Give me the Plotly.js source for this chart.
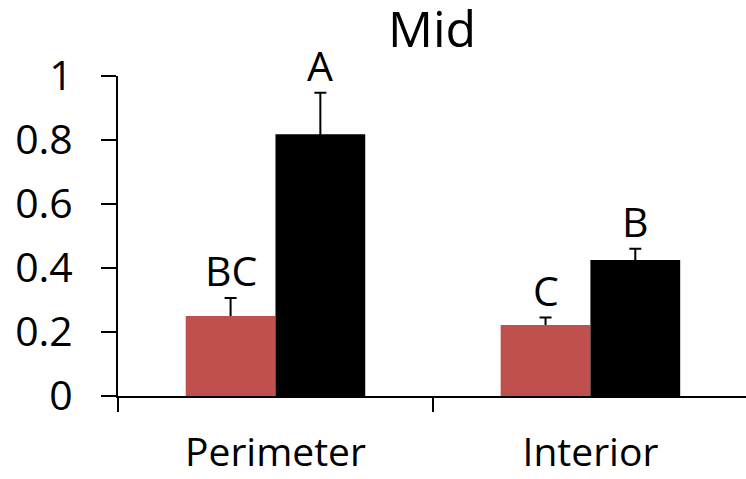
<!DOCTYPE html>
<html>
<head>
<meta charset="utf-8">
<script src="https://cdn.plot.ly/plotly-3.0.1.min.js"></script>
<style>html,body{margin:0;padding:0;background:#fff;}#chart{width:746px;height:479px;}</style>
</head>
<body>
<div id="chart"></div>
<script>
const categories = ["Perimeter", "Interior"];
const redValues = [0.25, 0.222];
const redErrors = [0.056, 0.023];
const blackValues = [0.818, 0.425];
const blackErrors = [0.13, 0.035];
const redLetters = ["BC", "C"];
const blackLetters = ["A", "B"];
const yTickVals = [0, 0.2, 0.4, 0.6, 0.8, 1];
const yTickText = ["0", "0.2", "0.4", "0.6", "0.8", "1"];
const titleText = "Mid";

const FONT = "Open Sans";
const bargap = 0.43;
const half = (1 - bargap) / 4;
const tuck = 0.01; // lower end of error bar sits hidden inside the bar

function errTrace(vals, errs) {
  return {
    type: "bar", x: categories, y: vals.map(v => v - tuck), yaxis: "y", xaxis: "x",
    marker: {color: "rgba(0,0,0,0)"}, hoverinfo: "skip",
    error_y: {type: "data", array: errs.map(e => e + tuck), arrayminus: errs.map(() => 0), symmetric: false, color: "#000", thickness: 2, width: 6}
  };
}

const traces = [
  errTrace(redValues, redErrors),
  errTrace(blackValues, blackErrors),
  {type: "bar", x: categories, y: redValues, yaxis: "y2", xaxis: "x", marker: {color: "#C0504D"}},
  {type: "bar", x: categories, y: blackValues, yaxis: "y2", xaxis: "x", marker: {color: "#000000"}}
];

const annotations = [];
categories.forEach((c, i) => {
  annotations.push({x: i - half, y: redValues[i] + redErrors[i], xref: "x", yref: "y", text: redLetters[i], showarrow: false, yanchor: "bottom", yshift: -2, font: {family: FONT, size: 41, color: "#000"}});
  annotations.push({x: i + half, y: blackValues[i] + blackErrors[i], xref: "x", yref: "y", text: blackLetters[i], showarrow: false, yanchor: "bottom", yshift: -2, font: {family: FONT, size: 41, color: "#000"}});
});

const layout = {
  width: 746, height: 479,
  margin: {l: 118, r: 0, t: 76, b: 83},
  paper_bgcolor: "#fff", plot_bgcolor: "#fff",
  font: {family: FONT, size: 41, color: "#000"},
  showlegend: false,
  barmode: "group", bargap: bargap, bargroupgap: 0,
  title: {text: titleText, font: {family: FONT, size: 50, color: "#000"}, x: 0.5, xref: "paper", xanchor: "center", y: 0.976, yref: "container", yanchor: "top"},
  xaxis: {
    type: "category", range: [-0.5, 1.494],
    showline: true, linecolor: "#000", linewidth: 2,
    ticks: "outside", tickson: "boundaries", ticklen: 14, tickwidth: 2, tickcolor: "#000",
    showgrid: false, zeroline: false,
    tickfont: {family: FONT, size: 39, color: "#000"},
    ticklabelstandoff: 21
  },
  yaxis: {
    range: [0, 1], tickvals: yTickVals, ticktext: yTickText,
    showline: true, linecolor: "#000", linewidth: 2,
    ticks: "outside", ticklen: 15, tickwidth: 2, tickcolor: "#000",
    showgrid: false, zeroline: false,
    tickfont: {family: FONT, size: 41, color: "#000"},
    ticklabelstandoff: 20
  },
  yaxis2: {
    range: [0, 1], overlaying: "y", side: "left",
    showline: false, showticklabels: false, ticks: "", showgrid: false, zeroline: false
  },
  annotations: annotations
};

Plotly.newPlot("chart", traces, layout, {displayModeBar: false, staticPlot: true});
</script>
</body>
</html>
